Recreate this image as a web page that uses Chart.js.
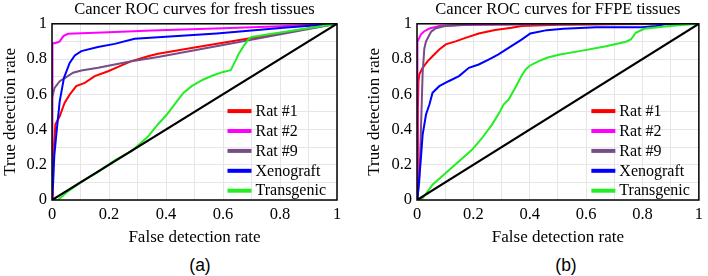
<!DOCTYPE html>
<html>
<head>
<meta charset="utf-8">
<script src="https://cdn.jsdelivr.net/npm/chart.js@4/dist/chart.umd.min.js"></script>
<style>
  html, body { margin: 0; padding: 0; background: #fff; }
  #wrap { position: relative; width: 708px; height: 276px; overflow: hidden; background: #fff; }
  canvas { position: absolute; top: 0; }
  #cA { left: 0; }
  #cB { left: 354px; }
  .sub { position: absolute; font-family: "Liberation Sans", Arial, sans-serif; font-size: 17.5px; color: #000; transform: translate(-50%, -50%); white-space: nowrap; }
</style>
</head>
<body>
<div id="wrap">
  <canvas id="cA" width="354" height="248"></canvas>
  <canvas id="cB" width="354" height="248"></canvas>
  <div class="sub" style="left:200px; top:265px;">(a)</div>
  <div class="sub" style="left:566px; top:265px;">(b)</div>
</div>
<script>
// ---- Data ([false detection rate, true detection rate]) ----
const seriesLabels = ["Rat #1", "Rat #2", "Rat #9", "Xenograft", "Transgenic"];
const seriesColors = ["#ff0000", "#ff00ff", "#774d87", "#0000ff", "#22ee22"];
const chartTitles = ["Cancer ROC curves for fresh tissues", "Cancer ROC curves for FFPE tissues"];
const xAxisTitle = "False detection rate";
const yAxisTitle = "True detection rate";
const tickLabels = ["0", "0.2", "0.4", "0.6", "0.8", "1"];
const chanceLine = [[0, 0], [1, 1]];

// (a) fresh tissues
const freshRat1 = [[0,0],[0.002,0.15],[0.0035,0.2],[0.007,0.314],[0.012,0.43],[0.027,0.475],[0.044,0.551],[0.062,0.598],[0.085,0.646],[0.115,0.665],[0.15,0.703],[0.197,0.731],[0.238,0.76],[0.279,0.788],[0.337,0.816],[0.372,0.83],[0.5,0.865],[0.7,0.92],[0.85,0.96],[1,1]];
const freshRat2 = [[0,0],[0.001,0.6],[0.002,0.89],[0.01,0.89],[0.02,0.895],[0.027,0.9],[0.04,0.93],[0.056,0.943],[0.2,0.952],[0.35,0.962],[0.6,0.975],[0.8,0.986],[1,1]];
const freshRat9 = [[0,0],[0,0.58],[0.009,0.636],[0.027,0.674],[0.05,0.697],[0.074,0.722],[0.103,0.735],[0.162,0.75],[0.22,0.769],[0.279,0.788],[0.372,0.812],[0.6,0.88],[1,1]];
const freshXeno = [[0,0],[0.004,0.1],[0.008,0.25],[0.015,0.37],[0.027,0.56],[0.042,0.693],[0.062,0.778],[0.08,0.82],[0.103,0.845],[0.161,0.868],[0.22,0.886],[0.29,0.915],[0.372,0.924],[0.578,0.945],[0.812,0.977],[1,1]];
const freshTrans = [[0,0],[0.021,0],[0.056,0.049],[0.103,0.103],[0.162,0.16],[0.22,0.225],[0.279,0.277],[0.337,0.36],[0.372,0.43],[0.403,0.485],[0.438,0.56],[0.461,0.608],[0.49,0.646],[0.531,0.684],[0.566,0.708],[0.601,0.727],[0.627,0.737],[0.643,0.788],[0.654,0.826],[0.672,0.873],[0.689,0.911],[0.7,0.925],[1,1]];

// (b) FFPE tissues
const ffpeRat1 = [[0,0],[0.003,0.5],[0.005,0.67],[0.008,0.712],[0.02,0.75],[0.038,0.788],[0.055,0.816],[0.079,0.854],[0.102,0.883],[0.137,0.9],[0.172,0.92],[0.219,0.945],[0.277,0.965],[0.336,0.978],[0.371,0.988],[0.5,0.995],[0.7,0.997],[1,1]];
const ffpeRat2 = [[0,0],[0.001,0.5],[0.002,0.9],[0.008,0.92],[0.014,0.94],[0.026,0.958],[0.044,0.973],[0.079,0.987],[0.15,0.993],[0.4,0.997],[1,1]];
const ffpeRat9 = [[0,0],[0.008,0.1],[0.014,0.4],[0.02,0.72],[0.026,0.86],[0.032,0.9],[0.04,0.925],[0.05,0.955],[0.067,0.975],[0.1,0.987],[0.2,0.996],[1,1]];
const ffpeXeno = [[0,0],[0.002,0.01],[0.014,0.239],[0.02,0.371],[0.032,0.485],[0.044,0.542],[0.055,0.608],[0.079,0.646],[0.112,0.674],[0.149,0.703],[0.184,0.75],[0.219,0.769],[0.254,0.797],[0.289,0.826],[0.336,0.875],[0.371,0.91],[0.402,0.945],[0.461,0.964],[0.519,0.972],[0.636,0.981],[0.8,0.98],[0.847,0.987],[0.88,0.997],[1,1]];
const ffpeTrans = [[0,0],[0.02,0.01],[0.055,0.087],[0.102,0.153],[0.149,0.22],[0.196,0.286],[0.231,0.352],[0.266,0.428],[0.295,0.504],[0.307,0.542],[0.325,0.57],[0.348,0.636],[0.371,0.705],[0.385,0.74],[0.4,0.762],[0.43,0.787],[0.461,0.807],[0.507,0.826],[0.577,0.845],[0.671,0.873],[0.741,0.898],[0.759,0.911],[0.776,0.949],[0.806,0.972],[0.87,0.983],[0.929,0.992],[1,1]];

const SERIF = "'Liberation Serif', 'Times New Roman', serif";
Chart.defaults.font.family = SERIF;
Chart.defaults.font.size = 16;
Chart.defaults.color = '#000';

function toPts(arr) { return arr.map(p => ({ x: p[0], y: p[1] })); }

const boxPlugin = {
  id: 'plotBox',
  afterDatasetsDraw(chart) {
    const a = chart.chartArea, ctx = chart.ctx;
    ctx.save();
    ctx.strokeStyle = '#000';
    ctx.lineWidth = 1.5;
    ctx.strokeRect(a.left, a.top, a.right - a.left, a.bottom - a.top);
    ctx.restore();
  }
};

const insideLegend = {
  id: 'insideLegend',
  afterDraw(chart, args, opts) {
    const a = chart.chartArea, ctx = chart.ctx;
    const items = chart.data.datasets.filter(d => !d.hideInLegend);
    ctx.save();
    ctx.font = '16px ' + SERIF;
    let maxW = 0;
    items.forEach(d => { maxW = Math.max(maxW, ctx.measureText(d.label).width); });
    const sampleW = 24, gap = 4, rowH = 19.9;
    const x0 = a.right - opts.marginRight - maxW - gap - sampleW;
    const yLast = a.bottom - 9.3;
    items.forEach((d, i) => {
      const y = yLast - (items.length - 1 - i) * rowH;
      ctx.strokeStyle = d.borderColor;
      ctx.lineWidth = 4;
      ctx.beginPath();
      ctx.moveTo(x0, y);
      ctx.lineTo(x0 + sampleW, y);
      ctx.stroke();
      ctx.fillStyle = '#000';
      ctx.textBaseline = 'middle';
      ctx.textAlign = 'left';
      ctx.fillText(d.label, x0 + sampleW + gap, y + 0.5);
    });
    ctx.restore();
  }
};

function makeChart(id, title, series, cfg) {
  const datasets = series.map((s, i) => ({
    label: seriesLabels[i],
    data: toPts(s),
    borderColor: seriesColors[i],
    backgroundColor: seriesColors[i],
    borderWidth: 2,
    pointRadius: 0,
    showLine: true,
    tension: 0,
    order: 6 - i
  }));
  datasets.push({
    label: 'Chance',
    hideInLegend: true,
    data: toPts(chanceLine),
    borderColor: '#000',
    borderWidth: 2.2,
    pointRadius: 0,
    showLine: true,
    order: 0
  });
  const tickCb = v => {
    const k = Math.round(v * 10);
    return k % 2 === 0 ? tickLabels[k / 2] : '';
  };
  return new Chart(document.getElementById(id), {
    type: 'scatter',
    data: { datasets },
    options: {
      responsive: false,
      animation: false,
      layout: { padding: { left: cfg.padLeft, right: cfg.padRight, top: 0, bottom: 0 } },
      plugins: {
        legend: { display: false },
        tooltip: { enabled: false },
        title: {
          display: true, text: title, color: '#000', fullSize: false,
          font: { family: SERIF, size: 16.5, weight: 'normal' },
          padding: { top: 0, bottom: 4 }
        },
        insideLegend: { marginRight: cfg.legendMargin }
      },
      scales: {
        x: {
          type: 'linear', min: 0, max: 1,
          afterFit: s => { s.height = 48; },
          grid: { color: '#e6e6e6', lineWidth: 1, drawTicks: false },
          border: { display: false },
          ticks: { stepSize: 0.1, autoSkip: false, maxRotation: 0, padding: 5, color: '#000',
                   font: { family: SERIF, size: 16.5 }, callback: tickCb },
          title: { display: true, text: xAxisTitle, color: '#000', padding: 0,
                   font: { family: SERIF, size: 17 } }
        },
        y: {
          type: 'linear', min: 0, max: 1,
          afterFit: s => { s.width = cfg.yWidth; },
          grid: { color: '#e6e6e6', lineWidth: 1, drawTicks: false },
          border: { display: false },
          ticks: { stepSize: 0.1, autoSkip: false, padding: 5, color: '#000',
                   font: { family: SERIF, size: 16.5 }, callback: tickCb },
          title: { display: true, text: yAxisTitle, color: '#000', padding: 0,
                   font: { family: SERIF, size: 17 } }
        }
      }
    },
    plugins: [boxPlugin, insideLegend]
  });
}

makeChart('cA', chartTitles[0], [freshRat1, freshRat2, freshRat9, freshXeno, freshTrans],
  { padLeft: 0, padRight: 17, yWidth: 52, legendMargin: 11 });
makeChart('cB', chartTitles[1], [ffpeRat1, ffpeRat2, ffpeRat9, ffpeXeno, ffpeTrans],
  { padLeft: 10, padRight: 6, yWidth: 53, legendMargin: 9 });
</script>
</body>
</html>
